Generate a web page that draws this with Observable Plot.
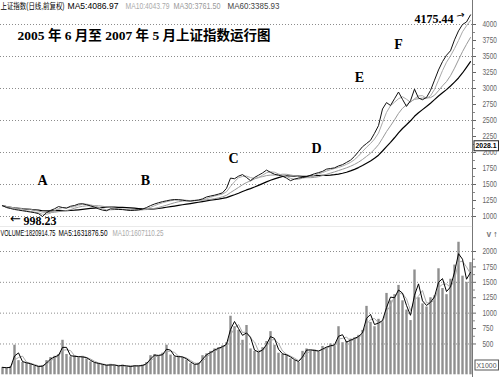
<!DOCTYPE html>
<html><head><meta charset="utf-8">
<script src="https://cdn.jsdelivr.net/npm/d3@7"></script>
<script src="https://cdn.jsdelivr.net/npm/@observablehq/plot@0.6"></script>
<style>
body{margin:0;background:#fff;}
#chart{position:relative;width:500px;height:377px;overflow:hidden;background:#fff;}
#chart svg{display:block;}
</style></head><body><div id="chart"></div>
<script>
// ---- data (one point ≈ 4 trading days) ----
const close = [1170,1140,1125,1110,1100,1090,1080,1070,1060,1045,
  1000,1060,1095,1120,1155,1140,1130,1160,1172,1195,
  1200,1185,1165,1148,1120,1100,1090,1120,1115,1110,
  1108,1100,1094,1098,1104,1115,1140,1170,1195,1215,
  1232,1245,1258,1265,1262,1255,1245,1240,1250,1258,
  1275,1305,1320,1333,1350,1370,1440,1600,1590,1630,
  1655,1610,1560,1610,1645,1680,1725,1690,1660,1645,
  1630,1600,1560,1585,1600,1610,1622,1645,1668,1685,
  1705,1740,1750,1760,1790,1810,1845,1880,1940,2015,
  2090,2140,2190,2300,2420,2680,2780,2735,2840,2945,
  2830,2720,2810,2990,2850,2825,2860,2970,3130,3290,
  3420,3520,3590,3760,3900,4000,4040,4150];
const volume = [120,110,130,480,230,200,190,170,140,130,
  150,230,280,300,330,560,330,290,310,280,
  300,260,210,190,180,160,150,170,150,140,
  160,130,140,150,140,160,200,310,330,300,
  350,480,320,290,300,280,240,180,160,190,
  310,340,380,420,440,470,520,950,780,720,
  560,800,420,380,360,440,540,700,480,350,
  330,320,260,230,200,380,420,390,400,370,
  460,440,500,470,780,520,540,580,600,640,
  720,1110,850,780,900,860,1320,1200,1300,1450,
  1200,1050,880,1700,1250,1150,1100,1250,1280,1720,
  1400,1300,1550,1780,2150,1600,1500,1820];
const priceTicks = [1000,1250,1500,1750,2000,2250,2500,2750,3000,3250,3500,3750,4000];
const priceMinor = [1125,1375,1625,1875,2125,2375,2625,2875,3125,3375,3625,3875];
const priceGrid = [1000,1500,2000,2500,3000,3500,4000];
const volTicks = [500,750,1000,1250,1500,1750,2000];
const volMinor = [625,875,1125,1375,1625,1875];
const volGrid = [500,1000,1500,2000];
const phaseLabels = ["A","B","C","D","E","F"];
const phaseIndex = [10,35.75,57.75,78.5,89.25,99];
const phaseLevel = [1562,1562,1906,2062,3172,3687];
const priceHeader = ["上证指数(日线,前复权)","MA5:4086.97","MA10:4043.79","MA30:3761.50","MA60:3385.93"];
const volHeader = ["VOLUME:1820914.75","MA5:1631876.50","MA10:1607110.25"];
const title = "2005 年 6 月至 2007 年 5 月上证指数运行图";
const lowPoint = {i: 10, value: 998.23};
const peakPoint = {i: 117, value: 4175.44};
const lastMark = "2028.1";
const unitLabel = "X1000";

// ---- layout / style ----
const priceHeaderDx = [0, 67, 125, 173, 227];
const priceHeaderW = [64, 51, 44, 47, 52];
const priceHeaderColor = ["#000", "#000", "#aaa", "#999", "#444"];
const volHeaderDx = [0, 58, 112];
const volHeaderW = [55, 49, 51];
const volHeaderColor = ["#000", "#000", "#aaa"];
const sans = "'Liberation Sans', Arial, 'Noto Sans CJK SC', sans-serif";
const serif = "'Liberation Serif', 'Noto Sans CJK SC', serif";
const xScale = {domain: [0, 117], range: [2, 470], axis: null};

const pdata = close.map((c, i) => ({i, c}));
const vdata = volume.map((v, i) => ({i, v}));
const phases = phaseLabels.map((t, j) => ({t, i: phaseIndex[j], v: phaseLevel[j]}));

const price = Plot.plot({
  width: 500, height: 227, marginTop: 0, marginBottom: 0, marginLeft: 0, marginRight: 28,
  x: xScale,
  y: {domain: [1000, 4000], range: [216, 24], axis: null},
  style: {background: "#fff", fontFamily: sans, fontSize: "8.5px", color: "#000"},
  marks: [
    Plot.ruleY(priceGrid, {stroke: "#8c8c8c", strokeDasharray: "1,2"}),
    Plot.lineY(pdata, Plot.windowY({k: 15, anchor: "end"}, {x: "i", y: "c", stroke: "#000", strokeWidth: 1.2})),
    Plot.lineY(pdata, Plot.windowY({k: 8, anchor: "end"}, {x: "i", y: "c", stroke: "#999", strokeWidth: 1})),
    Plot.lineY(pdata, Plot.windowY({k: 3, anchor: "end"}, {x: "i", y: "c", stroke: "#aaa", strokeWidth: 1})),
    Plot.lineY(pdata, {x: "i", y: "c", stroke: "#111", strokeWidth: 1}),
    Plot.text(phases, {x: "i", y: "v", text: "t", fontFamily: serif, fontWeight: "bold", fontSize: 14,
      fill: "#000", stroke: "#fff", strokeWidth: 3}),
    Plot.text([lowPoint], {x: "i", y: "value", text: () => "←", dx: -27, dy: 2.5,
      fontFamily: "'DejaVu Sans', sans-serif", fontSize: 13, fill: "#000"}),
    Plot.text([lowPoint], {x: "i", y: "value", text: d => String(d.value), dx: -19, dy: 4.5,
      textAnchor: "start", fontFamily: serif, fontWeight: "bold", fontSize: 12, fill: "#000"}),
    Plot.text([peakPoint], {x: "i", y: "value", text: d => d.value.toFixed(2), dx: -17, dy: 5.5,
      textAnchor: "end", fontFamily: serif, fontWeight: "bold", fontSize: 12, fill: "#000"}),
    Plot.text([peakPoint], {x: "i", y: "value", text: () => "→", dx: -10, dy: 2,
      fontFamily: "'DejaVu Sans', sans-serif", fontSize: 10, fill: "#000", rotate: -12}),
    ...priceHeader.map((t, j) => Plot.text([t], {frameAnchor: "top-left", dx: priceHeaderDx[j], dy: 5.5,
      textAnchor: "start", lineAnchor: "middle", fill: priceHeaderColor[j], fontSize: 8.5})),
    Plot.text([title], {frameAnchor: "top-left", dx: 17, dy: 35, textAnchor: "start", lineAnchor: "middle",
      fontFamily: serif, fontWeight: "bold", fontSize: 13.5, fill: "#000"}),
    Plot.axisY({anchor: "right", ticks: priceTicks, tickSize: 3, tickPadding: 7, color: "#666", fontSize: 8.5,
      tickFormat: d => String(d)}),
    Plot.axisY({anchor: "right", ticks: priceMinor, tickSize: 2, tickFormat: () => "", color: "#888"}),
    Plot.text([lastMark], {y: d => +d, text: d => d, frameAnchor: "right", textAnchor: "start", dx: 3, dy: -5,
      fontSize: 8, fontWeight: "bold", fill: "#000"}),
    Plot.frame({anchor: "right", stroke: "#777"}),
    Plot.frame({anchor: "bottom", stroke: "#aaa", strokeWidth: 1.5})
  ]
});

const vol = Plot.plot({
  width: 500, height: 150, marginTop: 0, marginBottom: 0, marginLeft: 0, marginRight: 28,
  x: xScale,
  y: {domain: [0, 2000], range: [147.3, 24], axis: null},
  style: {background: "#fff", fontFamily: sans, fontSize: "8.5px", color: "#000"},
  marks: [
    Plot.ruleY(volGrid, {stroke: "#8c8c8c", strokeDasharray: "1,2"}),
    Plot.ruleX(vdata, {x: "i", y1: 0, y2: "v", stroke: "#8f8f8f", strokeWidth: 2.4}),
    Plot.lineY(vdata, Plot.windowY({k: 3, anchor: "end"}, {x: "i", y: "v", stroke: "#aaa", strokeWidth: 1})),
    Plot.lineY(vdata, Plot.windowY({k: 2, anchor: "end"}, {x: "i", y: "v", stroke: "#000", strokeWidth: 1})),
    ...volHeader.map((t, j) => Plot.text([t], {frameAnchor: "top-left", dx: volHeaderDx[j], dy: 5.5,
      textAnchor: "start", lineAnchor: "middle", fill: volHeaderColor[j], fontSize: 8.5})),
    Plot.axisY({anchor: "right", ticks: volTicks, tickSize: 3, tickPadding: 7, color: "#666", fontSize: 8.5,
      tickFormat: d => String(d)}),
    Plot.axisY({anchor: "right", ticks: volMinor, tickSize: 2, tickFormat: () => "", color: "#888"}),
    Plot.text([unitLabel], {frameAnchor: "bottom-right", textAnchor: "start", dx: 4, dy: -10,
      fontSize: 8, fill: "#555"}),
    Plot.frame({anchor: "right", stroke: "#777"})
  ]
});

const root = document.getElementById("chart");
root.append(price, vol);

function findText(svg, content) {
  return d3.select(svg).selectAll("text").filter(function() { return this.textContent === content; });
}
function squeeze(svg, content, width) {
  findText(svg, content).attr("textLength", width).attr("lengthAdjust", "spacingAndGlyphs");
}
function boxText(svg, content, stroke) {
  findText(svg, content).each(function() {
    const b = this.getBBox();
    const t = this;
    d3.select(t.parentNode).insert("rect", () => t)
      .attr("transform", t.getAttribute("transform"))
      .attr("x", b.x - 1.5).attr("y", b.y - 0.5)
      .attr("width", b.width + 3).attr("height", b.height + 1)
      .attr("fill", "#fff").attr("stroke", stroke).attr("stroke-width", 1);
  });
}
priceHeader.forEach((t, j) => squeeze(price, t, priceHeaderW[j]));
volHeader.forEach((t, j) => squeeze(vol, t, volHeaderW[j]));
[price, vol].forEach(svg => {
  d3.select(svg).selectAll('g[aria-label="y-axis tick label"] text').each(function() {
    const n = this.textContent.length;
    if (n) d3.select(this).attr("textLength", n * 3.6).attr("lengthAdjust", "spacingAndGlyphs");
  });
});
squeeze(price, lastMark, 21);
squeeze(vol, unitLabel, 20);
boxText(price, lastMark, "#222");
boxText(vol, unitLabel, "#555");
</script></body></html>
